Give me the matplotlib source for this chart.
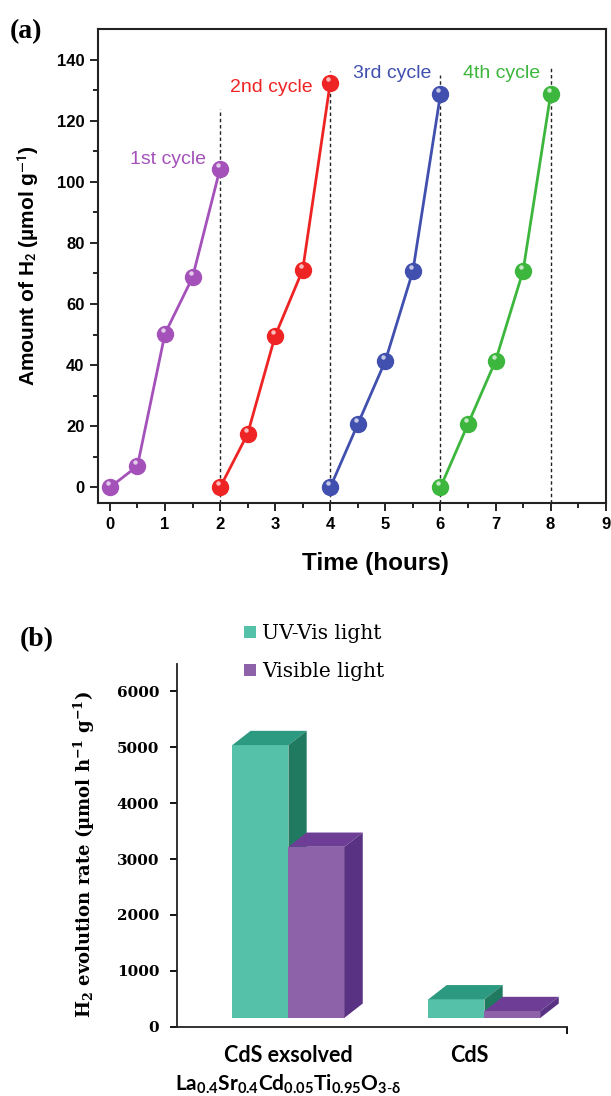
import numpy as np
import matplotlib.pyplot as plt
from matplotlib.patches import Polygon, Patch

plt.rcParams["mathtext.fontset"] = "custom"
plt.rcParams["mathtext.rm"] = "Lato"
plt.rcParams["mathtext.it"] = "Lato:italic"
plt.rcParams["mathtext.bf"] = "Lato:bold"

# ---------------- data: (a) cycling test ----------------
cycle_names = ["1st cycle", "2nd cycle", "3rd cycle", "4th cycle"]
cycle_colors = ["#A452BA", "#EE2424", "#4150AE", "#3DB63D"]
t1 = [0, 0.5, 1, 1.5, 2]
h1 = [0, 7.0, 50.3, 68.7, 104.3]
t2 = [2, 2.5, 3, 3.5, 4]
h2 = [0, 17.5, 49.6, 71.2, 132.4]
t3 = [4, 4.5, 5, 5.5, 6]
h3 = [0, 20.7, 41.4, 70.8, 128.6]
t4 = [6, 6.5, 7, 7.5, 8]
h4 = [0, 20.7, 41.4, 70.8, 128.6]
# end of each cycle (dashed markers) and their heights
cycle_end = [2, 4, 6, 8]
dash_top = [123.7, 136.3, 135.0, 137.6]
# label anchor (centre) for each cycle name
label_x = [1.05, 2.93, 5.12, 7.11]
label_y = [107.3, 131.0, 135.3, 135.5]

# ---------------- data: (b) evolution rate ----------------
samples = ["CdS exsolved", "CdS"]
uv_vis = [5040, 490]
visible = [3220, 280]
floor = 160       # the 3D floor sits a little above zero

fig = plt.figure(figsize=(6.11, 10.96), dpi=100)

# ==================================================
# (a)
# ==================================================
ax = fig.add_axes([98.3 / 611, 1 - 502.7 / 1096, 507.4 / 611, 473.7 / 1096])

series = [(t1, h1), (t2, h2), (t3, h3), (t4, h4)]
for (t, h), col in zip(series, cycle_colors):
    ax.plot(t, h, color=col, lw=2.0, marker="o", ms=11.5,
            mfc=col, mec=col, zorder=3)
    # small glossy spot on each ball
    ax.plot(np.array(t) - 0.035, np.array(h) + 1.3, ls="none", marker="o",
            ms=3.2, mfc="white", mec="none", alpha=0.7, zorder=4)

ax.vlines(cycle_end, -5, dash_top, colors="#222222", linestyles=(0, (2.5, 2)),
          lw=1.0, zorder=2)

for name, col, lx, ly in zip(cycle_names, cycle_colors, label_x, label_y):
    ax.text(lx, ly, name, color=col, fontsize=14, ha="center", va="center",
            family="Liberation Sans")

ax.set_xlim(-0.21, 9.0)
ax.set_ylim(-5, 150)
ax.set_xticks(range(0, 10))
ax.set_xticks(np.arange(0.5, 9, 1), minor=True)
ax.set_yticks(range(0, 141, 20))
ax.set_yticks(range(10, 141, 20), minor=True)
ax.tick_params(which="major", direction="out", length=6, width=1.2, pad=4,
               labelsize=12)
ax.tick_params(which="minor", direction="out", length=3.5, width=1.2)
for lab in ax.get_xticklabels() + ax.get_yticklabels():
    lab.set_fontfamily("Liberation Sans")
    lab.set_fontweight("bold")
for sp in ax.spines.values():
    sp.set_linewidth(1.5)
    sp.set_color("#222222")

fig.text(375.5 / 611, 1 - 563 / 1096, "Time (hours)", fontsize=17.5,
         fontweight="bold", family="Liberation Sans", ha="center", va="center")
fig.text(28.3 / 611, 1 - 266 / 1096,
         r"Amount of H$_\mathbf{2}$ (µmol g$^\mathbf{-1}$)",
         fontsize=15, fontweight="bold", family="Liberation Sans",
         rotation=90, ha="center", va="center", math_fontfamily="stixsans")
fig.text(10 / 611, 1 - 32 / 1096, "(a)", fontsize=20, fontweight="bold",
         family="Liberation Serif", ha="left", va="center")

# ==================================================
# (b)  pseudo 3D columns
# ==================================================
bx = fig.add_axes([177.3 / 611, 1 - 1026.7 / 1096, 389.7 / 611, 363.2 / 1096])

teal = ["#55C1A9", "#2B9A80", "#207A60"]     # front, top, side
purple = ["#8E62A8", "#6E3E96", "#5A3283"]
w = 0.286
dx, dy = 0.093, 255

centers = np.arange(len(samples))


def column(x0, value, shades, z):
    bx.bar(x0, value - floor, width=w, bottom=floor, align="edge",
           color=shades[0], lw=0, zorder=z)
    x1 = x0 + w
    top = [(x0, value), (x0 + dx, value + dy), (x1 + dx, value + dy), (x1, value)]
    side = [(x1, floor), (x1, value), (x1 + dx, value + dy), (x1 + dx, floor + dy)]
    bx.add_patch(Polygon(top, closed=True, fc=shades[1], ec="none", zorder=z))
    bx.add_patch(Polygon(side, closed=True, fc=shades[2], ec="none", zorder=z))


for i, c in enumerate(centers):
    column(c - w, uv_vis[i], teal, 3 + 2 * i)
    column(c, visible[i], purple, 4 + 2 * i)

bx.set_xlim(-0.567, 1.421)
bx.set_ylim(0, 6500)
bx.set_yticks(range(0, 6001, 1000))
bx.set_xticks([])
bx.set_xticks([1.421], minor=True)
bx.tick_params(axis="x", which="minor", direction="out", length=5, width=1.3,
               labelbottom=False)
bx.tick_params(axis="y", direction="out", length=5, width=1.3, pad=8,
               labelsize=11)
for lab in bx.get_yticklabels():
    lab.set_fontfamily("DejaVu Serif")
    lab.set_fontweight("bold")
bx.spines["top"].set_visible(False)
bx.spines["right"].set_visible(False)
for s in ["left", "bottom"]:
    bx.spines[s].set_linewidth(1.3)
    bx.spines[s].set_color("#222222")

bx.text(0, -0.08, samples[0], transform=bx.get_xaxis_transform(),
        fontsize=15.5, fontweight="bold", family="Lato", ha="center", va="center")
bx.text(0, -0.16,
        r"$\mathbf{La_{0.4}Sr_{0.4}Cd_{0.05}Ti_{0.95}O_{3\text{-}\delta}}$",
        transform=bx.get_xaxis_transform(), fontsize=15, ha="center",
        va="center")
bx.text(0.925, -0.08, samples[1], transform=bx.get_xaxis_transform(),
        fontsize=15.5, fontweight="bold", family="Lato", ha="center", va="center")

fig.text(84 / 611, 1 - 855 / 1096,
         r"H$_\mathbf{2}$ evolution rate (µmol h$^\mathbf{-1}$ g$^\mathbf{-1}$)",
         fontsize=13, fontweight="bold", family="DejaVu Serif", rotation=90,
         ha="center", va="center", math_fontfamily="dejavuserif")
fig.text(19.5 / 611, 1 - 640 / 1096, "(b)", fontsize=20, fontweight="bold",
         family="Liberation Serif", ha="left", va="center")

handles = [Patch(fc=teal[0], ec="none"), Patch(fc=purple[0], ec="none")]
fig.legend(handles, ["UV-Vis light", "Visible light"], loc="upper left",
           bbox_to_anchor=(244 / 611, 1 - 624 / 1096), frameon=False,
           prop={"family": "DejaVu Serif", "size": 14.5},
           handlelength=0.6, handleheight=0.6, handletextpad=0.3,
           labelspacing=0.95, borderpad=0, borderaxespad=0)

fig.savefig("out.png", dpi=100)
